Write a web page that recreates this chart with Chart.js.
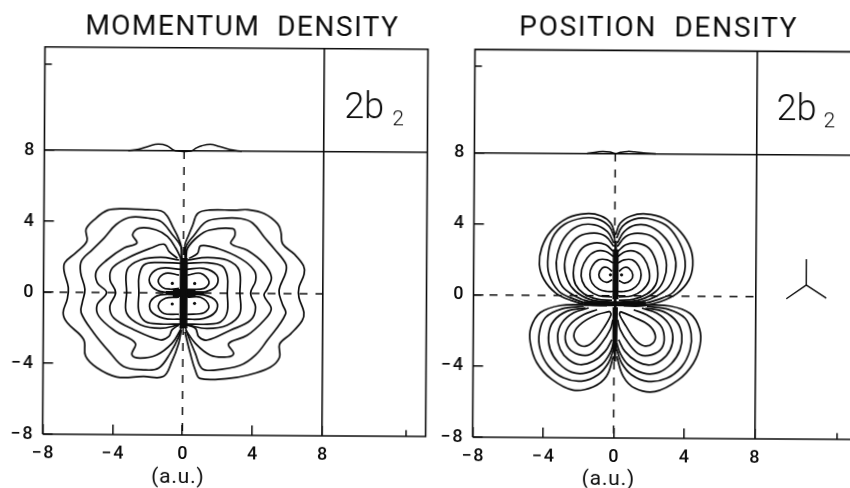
<!DOCTYPE html>
<html>
<head>
<meta charset="utf-8">
<script src="https://cdn.jsdelivr.net/npm/chart.js@4"></script>
<style>
html,body{margin:0;padding:0;background:#fff;width:850px;height:488px;overflow:hidden}
canvas{position:absolute;top:0}
#left{transform-origin:182.5px 293px;transform:rotate(0.35deg)}
#right{transform-origin:182px 296px;transform:rotate(0.35deg)}
</style>
</head>
<body>
<canvas id="left" width="432" height="488" style="left:0"></canvas>
<canvas id="right" width="430" height="488" style="left:432px"></canvas>
<script>
const tickValues = [-8, -4, 0, 4, 8];
const INK = '#0c0c0c';

// ---- Momentum density (left panel) ----
const momProfile = [[-3.2,8],[-2.6,8.08],[-2,8.27],[-1.5,8.38],[-1,8.3],[-0.6,8.05],[-0.4,8],[0.4,8],[0.7,8.18],[1,8.3],[1.5,8.38],[2,8.27],[2.6,8.1],[3.3,8]];
const momOuterL = [[-.08,1.95],[-.15,2.7],[-.38,3.27],[-.63,3.74],[-.95,4.34],[-1.3,4.62],[-2.06,4.68],[-3.4,4.73],[-4.35,4.64],[-5.11,4.11],[-5.59,3.55],[-5.53,2.89],[-6.16,2.23],[-6.79,1.67],[-6.83,1.2],[-6.58,.26],[-6.64,-.39],[-6.87,-1.15],[-6.64,-1.71],[-5.69,-2.65],[-5.57,-3.59],[-4.92,-4.24],[-3.78,-4.75],[-2.25,-4.71],[-1.11,-4.71],[-.63,-3.87],[-.25,-2.84],[-.1,-2.08]];
const momOuterR = [[.1,1.95],[.08,2.7],[.29,3.27],[.52,3.83],[.8,4.49],[1.47,4.68],[2.9,4.68],[3.66,4.71],[4.62,4.49],[5.38,3.92],[5.57,3.46],[5.67,2.8],[6.34,2.23],[6.87,1.58],[6.91,1.11],[6.62,.36],[6.62,-.21],[6.91,-1.05],[6.81,-1.52],[6.15,-2.27],[5.53,-2.84],[5.53,-3.59],[5,-4.15],[3.66,-4.62],[2.52,-4.81],[.99,-4.81],[.71,-4.34],[.42,-3.4],[.1,-2.18]];
const mom2L = [[-.12,1.95],[-.15,2.61],[-.63,3.27],[-1.3,4.02],[-2.06,4.21],[-3.11,4.24],[-3.87,3.83],[-4.54,3.08],[-5.21,2.42],[-5.84,1.77],[-5.88,1.11],[-5.63,.17],[-5.78,-.58],[-5.84,-1.15],[-5.11,-2.28],[-4.16,-3.4],[-3.4,-4.15],[-2.25,-4.34],[-1.39,-4.24],[-.73,-3.4],[-.25,-2.46],[-.12,-1.95]];
const mom2R = [[.13,1.95],[.15,2.61],[.61,3.27],[1.28,4.02],[2.14,4.21],[3.28,4.21],[3.95,3.96],[4.62,3.17],[5.19,2.52],[5.86,1.67],[5.86,1.2],[5.48,.17],[5.67,-.58],[5.86,-1.15],[4.81,-2.65],[4.14,-3.49],[3.28,-4.06],[1.76,-4.34],[1.09,-4.24],[.71,-3.4],[.23,-2.27],[.14,-1.95]];
const mom3L = [[-.15,1.95],[-.44,2.52],[-.92,3.17],[-1.58,3.55],[-2.54,3.64],[-2.92,3.27],[-2.67,2.8],[-3.4,2.52],[-4.35,1.86],[-4.98,1.2],[-4.92,.54],[-4.39,0],[-4.92,-.68],[-4.83,-1.33],[-3.87,-2.18],[-2.73,-2.84],[-2.92,-3.49],[-2.44,-3.68],[-1.49,-3.49],[-.63,-2.84],[-.15,-2.08]];
const mom3R = [[.15,1.95],[.23,2.52],[.8,3.17],[1.47,3.55],[2.81,3.64],[2.94,3.27],[2.71,2.8],[3.66,2.42],[4.62,1.67],[5.04,.92],[4.81,.26],[4.62,-.11],[5.04,-.86],[4.62,-1.52],[3.66,-2.37],[2.61,-2.84],[2.9,-3.4],[2.52,-3.59],[1.56,-3.49],[.71,-2.84],[.15,-2.08]];
const mom4L = [[-.34,1.95],[-.82,2.33],[-1.11,2.74],[-1.87,2.52],[-3.21,1.95],[-4.06,1.39],[-4.2,.73],[-3.87,0],[-4.2,-.77],[-3.97,-1.43],[-2.82,-2.08],[-1.3,-2.65],[-.82,-2.46],[-.63,-2.08],[-.25,-1.8]];
const mom4R = [[.32,1.95],[.8,2.23],[.99,2.67],[1.95,2.52],[3.28,1.95],[4.05,1.3],[4.14,.73],[3.85,0],[4.14,-.77],[3.85,-1.52],[2.71,-2.08],[1.37,-2.65],[.9,-2.46],[.71,-1.99],[.23,-1.8]];
const mom5L = [[-.25,1.86],[-1.3,2.01],[-2.44,1.86],[-3.21,1.3],[-3.24,0],[-3.24,-1.15],[-2.44,-1.8],[-1.3,-1.99],[-.25,-1.8]];
const mom5R = [[.23,1.86],[1.37,2.01],[2.52,1.86],[3.19,1.3],[3.24,0],[3.24,-1.15],[2.52,-1.8],[1.37,-1.99],[.23,-1.8]];
const mom6L = [[-.15,1.67],[-1.49,1.71],[-2.25,1.58],[-2.54,.92],[-2.54,0],[-2.54,-1.05],[-2.16,-1.62],[-1.3,-1.75],[-.15,-1.75]];
const mom6R = [[.19,1.67],[1.37,1.71],[2.23,1.52],[2.52,.92],[2.52,0],[2.52,-1.05],[2.14,-1.62],[1.37,-1.75],[.19,-1.75]];
const momLobeUL = [[-.15,1.33],[-1.3,1.39],[-1.87,1.01],[-1.87,.45],[-1.3,.08],[-.15,.02]];
const momCoreUL = [[-.25,1.01],[-1.01,1.11],[-1.43,.73],[-1.2,.32],[-.73,.21],[-.25,.26]];
const momLobeLL = [[-.15,-.11],[-1.3,-.11],[-1.87,-.49],[-1.83,-1.05],[-1.11,-1.43],[-.15,-1.48]];
const momCoreLL = [[-.25,-.24],[-1.01,-.3],[-1.43,-.73],[-1.11,-1.15],[-.25,-1.2]];
const momLobeUR = [[.15,1.33],[1.18,1.39],[1.91,1.01],[1.91,.45],[1.28,.08],[.15,.02]];
const momCoreUR = [[.23,1.01],[.99,1.11],[1.47,.64],[1.18,.26],[.23,.21]];
const momLobeLR = [[.15,-.11],[1.18,-.11],[1.91,-.49],[1.85,-1.05],[1.18,-1.43],[.15,-1.48]];
const momCoreLR = [[.23,-.24],[.99,-.24],[1.47,-.73],[1.18,-1.11],[.23,-1.2]];
const momMaxima = [[-.63,.54],[.65,.54],[-.63,-.62],[.65,-.58]];
const momBandV = [[.02,1.97],[.02,-1.99]];
const momBandH = [[-1,0],[1.18,0]];
const momBandC = [[-.6,0],[.7,0]];

// ---- Position density (right panel) ----
const posProfile = [[-1.6,8],[-1,8.09],[-.7,8.12],[-.3,8.08],[0,8],[.3,8.07],[.7,8.12],[1.1,8.1],[1.6,8.04],[2.3,8]];
const posU1L = [[.02,3.43],[-.23,4.08],[-.79,4.49],[-1.64,4.61],[-2.68,4.36],[-3.63,3.61],[-4.14,2.68],[-4.27,1.74],[-4.01,.9],[-3.35,.15],[-2.5,-.26],[-1.55,-.51],[-.42,-.56]];
const posU2L = [[0,3.24],[-.32,3.9],[-.98,4.31],[-1.83,4.36],[-2.87,3.99],[-3.53,3.24],[-3.78,2.21],[-3.72,1.18],[-3.16,.24],[-2.31,-.19],[-1.46,-.45],[-.42,-.51]];
const posU3L = [[-.04,2.96],[-.42,3.61],[-1.17,3.99],[-2.12,3.9],[-2.87,3.24],[-3.25,2.3],[-3.29,1.46],[-2.97,.52],[-2.21,-.04],[-1.46,-.32],[-.23,-.45]];
const posU4L = [[-.04,2.77],[-.51,3.33],[-1.17,3.52],[-2.02,3.33],[-2.59,2.68],[-2.84,1.74],[-2.68,.9],[-2.21,.24],[-1.36,-.22],[-.23,-.37]];
const posU5L = [[-.08,2.49],[-.51,2.87],[-1.17,2.96],[-1.83,2.68],[-2.21,2.02],[-2.34,1.27],[-2.21,.62],[-1.74,.11],[-.98,-.19],[-.13,-.26]];
const posU6L = [[-.08,2.21],[-.51,2.49],[-1.08,2.49],[-1.55,2.12],[-1.87,1.46],[-1.83,.81],[-1.46,.3],[-.89,0],[-.13,-.07]];
const posU7L = [[-.08,1.84],[-.42,2.02],[-.89,2.02],[-1.27,1.65],[-1.4,1.18],[-1.27,.71],[-.89,.37],[-.42,.24],[-.08,.24]];
const posU8L = [[-.13,1.37],[-.42,1.59],[-.7,1.55],[-.89,1.18],[-.76,.9],[-.45,.75],[-.13,.9]];
const posU1R = [[.06,3.43],[.3,4.08],[.91,4.49],[1.76,4.61],[2.8,4.36],[3.74,3.61],[4.31,2.68],[4.44,1.74],[4.22,.9],[3.55,.15],[2.61,-.32],[1.57,-.56],[.53,-.56]];
const posU2R = [[.11,3.24],[.43,3.9],[1.1,4.31],[1.85,4.36],[2.89,3.99],[3.55,3.24],[3.97,2.21],[3.93,1.18],[3.36,.24],[2.51,-.19],[1.57,-.45],[.53,-.51]];
const posU3R = [[.15,2.96],[.53,3.61],[1.19,3.99],[2.04,3.9],[2.89,3.24],[3.4,2.3],[3.46,1.46],[3.08,.52],[2.33,-.04],[1.57,-.32],[.34,-.45]];
const posU4R = [[.15,2.77],[.62,3.33],[1.29,3.52],[2.14,3.33],[2.7,2.68],[2.95,1.74],[2.8,.9],[2.33,.24],[1.47,-.22],[.34,-.37]];
const posU5R = [[.19,2.49],[.62,2.87],[1.29,2.96],[1.95,2.68],[2.33,2.02],[2.46,1.27],[2.33,.62],[1.85,.11],[1.1,-.19],[.25,-.26]];
const posU6R = [[.19,2.21],[.62,2.49],[1.19,2.49],[1.66,2.12],[1.95,1.46],[1.95,.81],[1.57,.3],[1,0],[.25,-.07]];
const posU7R = [[.19,1.84],[.53,2.02],[1,2.02],[1.38,1.65],[1.51,1.18],[1.38,.71],[1,.37],[.53,.24],[.19,.24]];
const posU8R = [[.25,1.37],[.53,1.59],[.81,1.55],[1.04,1.18],[.91,.86],[.57,.71],[.25,.86]];
const posL1L = [[-1.64,-.51],[-3.06,-.56],[-4.2,-.97],[-4.73,-1.82],[-4.76,-2.66],[-4.39,-3.78],[-3.53,-4.72],[-2.31,-5.32],[-1.17,-5.13],[-.42,-4.53],[-.04,-3.41]];
const posL2L = [[-1.74,-.6],[-2.97,-.75],[-3.91,-1.25],[-4.25,-2.1],[-4.2,-3.03],[-3.72,-3.97],[-2.87,-4.63],[-1.83,-4.81],[-.89,-4.44],[-.32,-3.78],[-.04,-3.03]];
const posL3L = [[-1.64,-.69],[-2.68,-.88],[-3.44,-1.44],[-3.72,-2.19],[-3.63,-3.03],[-3.16,-3.78],[-2.4,-4.31],[-1.55,-4.34],[-.7,-3.88],[-.23,-3.22],[-.04,-2.66]];
const posL4L = [[-1.46,-.69],[-2.31,-.97],[-2.97,-1.54],[-3.21,-2.28],[-3.06,-3.03],[-2.59,-3.6],[-1.93,-3.88],[-1.17,-3.69],[-.51,-3.13],[-.13,-2.47]];
const posL5L = [[-.98,-.79],[-1.74,-1.07],[-2.5,-1.63],[-2.78,-2.28],[-2.59,-2.94],[-2.02,-3.31],[-1.36,-3.31],[-.7,-2.66],[-.23,-1.91],[-.08,-1.35]];
const posL6L = [[-.26,-.88],[-.98,-1.07],[-1.83,-1.54],[-2.27,-2.1],[-2.12,-2.66],[-1.64,-2.85],[-1.17,-2.57],[-.6,-1.82],[-.19,-1.07],[-.26,-.88]];
const posL1R = [[1.76,-.51],[3.17,-.56],[4.3,-.97],[4.84,-1.82],[4.88,-2.75],[4.5,-3.78],[3.65,-4.72],[2.33,-5.38],[1.19,-5.19],[.53,-4.53],[.15,-3.41]];
const posL2R = [[1.85,-.6],[3.08,-.75],[4.03,-1.25],[4.37,-2.1],[4.31,-3.03],[3.84,-3.97],[2.99,-4.63],[1.95,-4.81],[1,-4.44],[.43,-3.78],[.15,-3.03]];
const posL3R = [[1.76,-.69],[2.8,-.88],[3.55,-1.44],[3.84,-2.19],[3.74,-3.03],[3.27,-3.78],[2.51,-4.31],[1.66,-4.34],[.81,-3.88],[.34,-3.22],[.15,-2.66]];
const posL4R = [[1.57,-.69],[2.42,-.97],[3.08,-1.54],[3.33,-2.28],[3.18,-3.03],[2.7,-3.6],[2.04,-3.88],[1.29,-3.69],[.62,-3.13],[.25,-2.47]];
const posL5R = [[1.1,-.79],[1.85,-1.07],[2.61,-1.63],[2.84,-2.28],[2.7,-2.94],[2.14,-3.31],[1.47,-3.31],[.81,-2.66],[.34,-1.91],[.19,-1.35]];
const posL6R = [[.34,-.88],[1.1,-1.2],[1.95,-1.63],[2.33,-2.19],[2.19,-2.66],[1.7,-2.81],[1.19,-2.47],[.68,-1.72],[.3,-1.07],[.34,-.88]];
const posMaxima = [[-.23,1.18],[.4,1.18]];
const posNode = [[.06,-.4]];
const posBandUpper = [[.06,2.6],[.06,-.2]];
const posBandLower = [[.06,-.65],[.04,-3.1]];
const posBandTip = [[.06,3.1],[.05,-3.7]];
const posBandH = [[-1.72,-.45],[-.1,-.45],[.2,-.45],[1.78,-.45]];
const molecule = [[10.89,2.13],[10.89,.67],[9.76,-.11],[10.89,.67],[12.03,-.06]];

const toPts = a => a.map(([x, y]) => ({x, y}));
const curve = (a, w = 1.7) => ({data: toPts(a), showLine: true, borderColor: INK, borderWidth: w, pointRadius: 0, tension: 0.38, fill: false});
const straight = (a, w = 1.5, dash = []) => ({data: toPts(a), showLine: true, borderColor: INK, borderWidth: w, borderDash: dash, pointRadius: 0, tension: 0, fill: false});
const dots = (a, r = 1.6, c = INK) => ({data: toPts(a), showLine: false, pointRadius: r, pointBackgroundColor: c, pointBorderWidth: 0});

const panelPlugin = {
  id: 'panel',
  afterLayout(chart) {
    const o = chart.options.plugins.panel, tb = chart.titleBlock;
    tb.left += o.titleShift;
    tb.right += o.titleShift;
    if (!tb._spaced) {
      const draw = tb.draw;
      tb.draw = function () {
        const c = this.ctx;
        c.save(); c.letterSpacing = o.titleSpacing; draw.call(this); c.restore();
      };
      tb._spaced = true;
    }
  },
  afterDraw(chart) {
    const o = chart.options.plugins.panel, ctx = chart.ctx, a = chart.chartArea;
    const X = chart.scales.x, Y = chart.scales.y;
    ctx.save();
    ctx.strokeStyle = INK; ctx.lineWidth = 1.6;
    ctx.beginPath();
    ctx.moveTo(a.left, a.bottom); ctx.lineTo(a.left, a.top); ctx.lineTo(a.right, a.top);
    if (o.rightEdge) ctx.lineTo(a.right, a.bottom); else ctx.moveTo(a.right, a.bottom);
    ctx.lineTo(a.left, a.bottom);
    ctx.stroke();
    ctx.fillStyle = INK; ctx.textBaseline = 'alphabetic';
    for (const t of o.texts) {
      ctx.font = t.font; ctx.textAlign = t.align || 'left';
      ctx.letterSpacing = t.spacing || '0px';
      ctx.fillText(t.s, X.getPixelForValue(t.x), Y.getPixelForValue(t.y));
    }
    ctx.restore();
  }
};

function panel(id, title, xMax, yMax, area, titleShift, titleSpacing, rightEdge, texts, datasets) {
  const canvas = document.getElementById(id);
  const axisBase = {
    type: 'linear',
    afterBuildTicks(s) { s.ticks = tickValues.map(value => ({value})); },
    border: {display: false},
    grid: {
      drawTicks: true, tickLength: -10, tickWidth: 1.5, tickColor: INK, lineWidth: 1.6,
      color: c => (c.tick && c.tick.value === 8) ? INK : 'rgba(0,0,0,0)'
    }
  };
  const tickCfg = {
    autoSkip: false, maxRotation: 0, minRotation: 0, color: INK,
    font: {family: 'Roboto', size: 18, weight: '500'},
    callback: v => v < 0 ? '\u2212\u200A' + (-v) : String(v)
  };
  return new Chart(canvas, {
    type: 'scatter',
    data: {datasets},
    plugins: [panelPlugin],
    options: {
      responsive: false, animation: false, events: [],
      layout: {padding: {left: 0, right: canvas.width - area.right, top: 0, bottom: 0}},
      plugins: {
        legend: {display: false}, tooltip: {enabled: false},
        title: {
          display: true, text: title, color: INK,
          font: {family: 'Roboto', size: 28, weight: '400', lineHeight: 1.2},
          padding: {top: area.titleTop, bottom: area.top - area.titleTop - 33.6}
        },
        panel: {titleShift, titleSpacing, rightEdge, texts}
      },
      scales: {
        x: {...axisBase, position: 'bottom', min: -8, max: xMax,
            afterFit(s) { s.height = 488 - area.bottom; },
            ticks: {...tickCfg, padding: 19}},
        y: {...axisBase, position: 'left', min: -8, max: yMax,
            afterFit(s) { s.width = area.left; },
            ticks: {...tickCfg, padding: 20}}
      }
    }
  });
}

const bigFont = '300 36px Roboto', subFont = '300 21px Roboto', auFont = '400 21px Roboto';

panel('left', 'MOMENTUM  DENSITY', 13.92, 13.82,
  {left: 43.5, right: 426.5, top: 47.7, bottom: 435, titleTop: 11}, 27.5, '1.5px', true,
  [{s: '2b', x: 9.15, y: 9.9, font: bigFont}, {s: '2', x: 11.9, y: 9.52, font: subFont},
   {s: '(a.u.)', x: -0.25, y: -10.7, font: auFont, align: 'center', spacing: '0.8px'}],
  [
    straight([[-8,0],[8,0]], 1.5, [8,8]), straight([[0,8],[0,-8]], 1.5, [8,8]),
    straight([[-8,12.85],[-7.6,12.85]]), straight([[12.8,-8],[12.8,-7.65]]),
    curve(momProfile, 1.5),
    curve(momOuterL), curve(momOuterR), curve(mom2L), curve(mom2R), curve(mom3L), curve(mom3R),
    curve(mom4L), curve(mom4R), curve(mom5L), curve(mom5R), curve(mom6L), curve(mom6R),
    curve(momLobeUL), curve(momCoreUL), curve(momLobeLL), curve(momCoreLL),
    curve(momLobeUR), curve(momCoreUR), curve(momLobeLR), curve(momCoreLR),
    straight(momBandV, 8), straight(momBandH, 4), straight(momBandC, 8),
    dots(momMaxima)
  ]);

panel('right', 'POSITION  DENSITY', 13.83, 13.8,
  {left: 41.5, right: 426.5, top: 50.4, bottom: 438, titleTop: 12}, 11.8, '1.7px', false,
  [{s: '2b', x: 9.15, y: 9.94, font: bigFont}, {s: '2', x: 11.82, y: 9.55, font: subFont},
   {s: '(a.u.)', x: -0.28, y: -10.62, font: auFont, align: 'center', spacing: '0.8px'}],
  [
    straight([[-8,0],[8,0]], 1.5, [8,8]), straight([[0,8],[0,-8]], 1.5, [8,8]),
    straight([[-8,12.87],[-7.6,12.87]]), straight([[12.69,-8],[12.69,-7.65]]),
    curve(posProfile, 1.5),
    curve(posU1L), curve(posU2L), curve(posU3L), curve(posU4L), curve(posU5L), curve(posU6L), curve(posU7L), curve(posU8L),
    curve(posU1R), curve(posU2R), curve(posU3R), curve(posU4R), curve(posU5R), curve(posU6R), curve(posU7R), curve(posU8R),
    curve(posL1L), curve(posL2L), curve(posL3L), curve(posL4L), curve(posL5L), curve(posL6L),
    curve(posL1R), curve(posL2R), curve(posL3R), curve(posL4R), curve(posL5R), curve(posL6R),
    straight(posBandTip, 2.5), straight(posBandUpper, 6), straight(posBandLower, 5), straight(posBandH, 5),
    dots(posMaxima), dots(posNode, 2.6, '#ffffff'),
    straight(molecule, 1.4)
  ]);
</script>
</body>
</html>
